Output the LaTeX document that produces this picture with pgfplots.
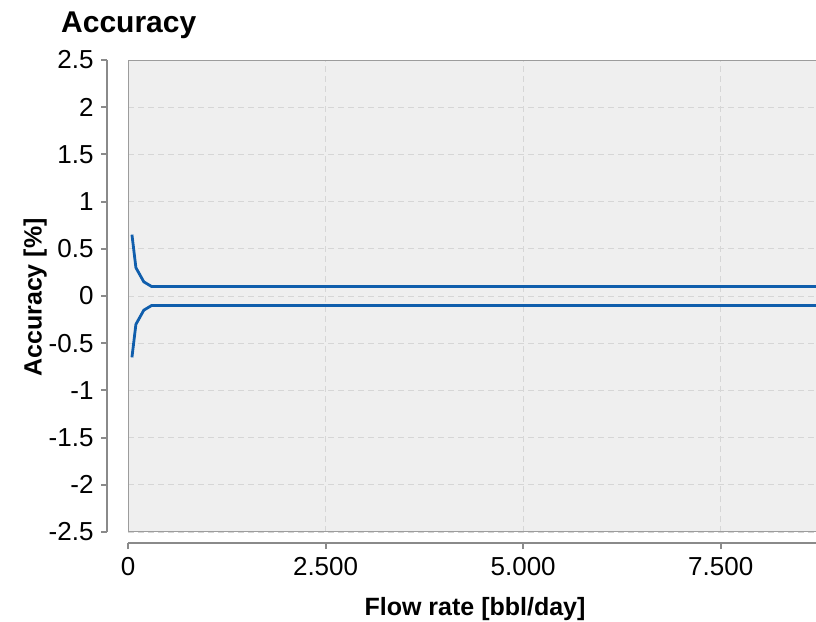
\documentclass[border=0pt]{standalone}
\usepackage{fontspec}
\setmainfont{Liberation Sans}
\usepackage{pgfplots}
\pgfplotsset{compat=1.18}

\definecolor{panel}{HTML}{EFEFEF}
\definecolor{gridgray}{HTML}{D6D6D6}
\definecolor{bordergray}{HTML}{9C9C9C}
\definecolor{axisgray}{HTML}{8A8A8A}
\definecolor{lineblue}{RGB}{16,94,172}

\begin{document}
\begin{tikzpicture}
\path[use as bounding box] (0pt,0pt) rectangle (816pt,621pt);

% plot panel: background, grid and the two accuracy limits
\begin{axis}[
    name=panel,
    at={(128pt,89pt)}, anchor=south west,
    scale only axis, width=688pt, height=472pt,
    xmin=0, xmax=8705, ymin=-2.5, ymax=2.5,
    xtick={0,2500,5000,7500},
    ytick={-2.5,-2,-1.5,-1,-0.5,0,0.5,1,1.5,2,2.5},
    xticklabels={}, yticklabels={},
    major tick length=0pt,
    grid=major,
    major grid style={gridgray, line width=1pt, dash pattern=on 6pt off 4pt},
    axis line style={draw=none},
    axis background/.style={fill=panel},
]
\addplot[lineblue, line width=2.8pt] coordinates {
    (50,0.65) (100,0.30) (200,0.15) (300,0.10) (10000,0.10)
};
\addplot[lineblue, line width=2.8pt] coordinates {
    (50,-0.65) (100,-0.30) (200,-0.15) (300,-0.10) (10000,-0.10)
};
\end{axis}
\draw[bordergray, line width=1pt] (panel.north east) -- (panel.north west)
    -- (panel.south west) -- (panel.south east);

% offset y axis
\begin{axis}[
    at={(107pt,89pt)}, anchor=south west,
    scale only axis, width=10pt, height=472pt,
    xmin=0, xmax=1, ymin=-2.5, ymax=2.5,
    hide x axis, axis y line*=left,
    ytick={-2.5,-2,-1.5,-1,-0.5,0,0.5,1,1.5,2,2.5},
    yticklabels={-2.5,-2,-1.5,-1,-0.5,0,0.5,1,1.5,2,2.5},
    ytick align=outside, major tick length=6pt,
    axis line style={axisgray, line width=2pt, -},
    every tick/.style={axisgray, line width=2pt},
    yticklabel style={font=\fontsize{26}{31}\selectfont, text=black, xshift=-4pt},
]
\end{axis}

% offset x axis
\begin{axis}[
    at={(128pt,78pt)}, anchor=south west,
    scale only axis, width=688pt, height=10pt,
    xmin=0, xmax=8705, ymin=0, ymax=1,
    hide y axis, axis x line*=bottom,
    xtick={0,2500,5000,7500},
    xticklabels={0,2.500,5.000,7.500},
    xtick align=outside, major tick length=6pt,
    axis line style={axisgray, line width=2pt, -},
    every tick/.style={axisgray, line width=2pt},
    xticklabel style={font=\fontsize{26}{31}\selectfont, text=black, yshift=-5pt},
]
\end{axis}

\node[anchor=base west, inner sep=0pt, font=\bfseries\fontsize{30}{36}\selectfont]
    at (61pt,588pt) {Accuracy};
\node[anchor=base, inner sep=0pt, font=\bfseries\fontsize{25}{30}\selectfont]
    at (475pt,6pt) {Flow rate [bbl/day]};
\node[rotate=90, anchor=base, inner sep=0pt, font=\bfseries\fontsize{25}{30}\selectfont]
    at (41.7pt,323.5pt) {Accuracy [\%]};
\end{tikzpicture}
\end{document}
